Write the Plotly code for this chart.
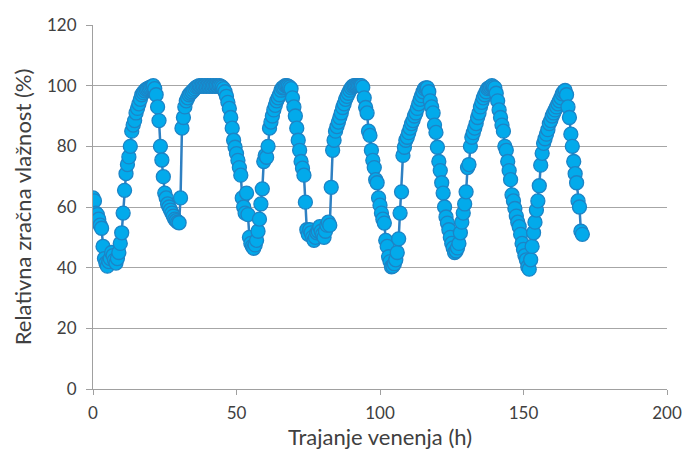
import plotly.graph_objects as go

# Time (h), half-hour steps
hours = [i * 0.5 for i in range(342)]

# Relative air humidity (%)
humidity = [
    63, 62, 58, 57.5, 56, 54, 53, 47, 43, 41.5,          # 0-4.5
    40.5, 42, 43, 45, 44, 42.5, 41.5, 43, 45, 48,         # 5-9.5
    51.5, 58, 65.5, 71, 74, 76.5, 80, 85, 87, 88.5,       # 10-14.5
    91, 92.5, 94, 95.5, 97, 97.7, 98.3, 98.8, 99, 99.3,   # 15-19.5
    99.5, 99.7, 100, 99, 97, 93, 88.5, 80, 75.5, 70,      # 20-24.5
    64.6, 63, 61, 60, 59, 58, 57, 56, 55.5, 55,           # 25-29.5
    54.8, 63, 86, 89.5, 93, 95, 96, 97, 97.5, 98,         # 30-34.5
    98.5, 99, 99.5, 99.7, 100, 99.8, 100, 99.8, 100, 99.8, # 35-39.5
    100, 99.8, 100, 99.8, 100, 99.8, 100, 99.8, 100, 99.8, # 40-44.5
    99.5, 99, 98, 96.5, 94.5, 92.5, 89.5, 86, 82, 79.7,   # 45-49.5
    77.6, 75.4, 73, 70.5, 63, 60, 58, 64.6, 57.5, 50,     # 50-54.5
    48, 47, 46.4, 47.5, 49, 52, 56, 61, 66, 75,           # 55-59.5
    77, 76.4, 80, 86, 88, 90, 92, 93.5, 95, 96,           # 60-64.5
    97, 98.5, 99.3, 99.5, 100, 100, 99.8, 99.5, 99, 96,   # 65-69.5
    93, 90, 86, 82, 78.7, 75, 72.8, 70.5, 61.6, 52.5,     # 70-74.5
    51, 52.5, 51.5, 50, 49, 50, 51.5, 52, 53.5, 52,       # 75-79.5
    51, 50, 52, 54, 55, 54, 66.5, 78.7, 82, 85,           # 80-84.5
    86.5, 88, 89.5, 91, 92.8, 94, 95.5, 96.5, 97.5, 98.5, # 85-89.5
    99.3, 99.8, 100, 100, 100, 100, 100, 100, 99.5, 96,   # 90-94.5
    92.8, 91, 85, 83.6, 78.7, 75.4, 73, 69, 68, 63,       # 95-99.5
    60.6, 58, 56, 54.7, 49, 47, 43.6, 42, 40.3, 40.5,     # 100-104.5
    41.3, 42.6, 45, 49.5, 58, 65, 77, 79.7, 82, 83,       # 105-109.5
    84.5, 86, 87.5, 88.5, 90, 91, 92.5, 94, 95.5, 96.7,   # 110-114.5
    98, 99, 99.3, 99.3, 98, 95, 93, 91, 87, 84.6,         # 115-119.5
    79.7, 75, 72, 68, 64.6, 60, 56.7, 54.7, 52.5, 50,     # 120-124.5
    48, 46.5, 45, 45.5, 46.5, 48, 51.5, 55, 58, 61,       # 125-129.5
    65, 73, 74, 80, 83, 84.5, 86, 87.5, 89.5, 91,         # 130-134.5
    93, 94.5, 96, 97, 98, 99, 99.3, 99.6, 100, 99.6,      # 135-139.5
    99.3, 97.5, 95, 92, 89.5, 87, 85, 80, 78.7, 75,       # 140-144.5
    72, 69, 64, 62, 59.5, 57, 55, 53.5, 51, 48,           # 145-149.5
    46, 44, 42.6, 40.3, 39.5, 42.6, 47, 51.5, 55, 59,     # 150-154.5
    62, 67, 73.8, 77.7, 81, 82.5, 84, 85.5, 87.5, 88.5,   # 155-159.5
    90, 91, 92, 93, 94, 95, 96, 97.3, 98, 98.4,           # 160-164.5
    97, 93, 89.5, 84, 80, 75, 71, 68, 62, 60,             # 165-169.5
    52, 51,                                               # 170-170.5
]

x_ticks = [0, 50, 100, 150, 200]
y_ticks = [0, 20, 40, 60, 80, 100, 120]

font_family = "Lato, 'Open Sans', sans-serif"
text_color = "#404040"

fig = go.Figure(
    go.Scatter(
        x=hours,
        y=humidity,
        mode="lines+markers",
        line=dict(color="#2F80C2", width=2.5),
        marker=dict(size=14, color="#02AAEB", line=dict(color="#1C84C6", width=1.3)),
        showlegend=False,
    )
)

fig.update_layout(
    width=694,
    height=455,
    margin=dict(l=93, r=17, t=25, b=65),
    paper_bgcolor="white",
    plot_bgcolor="white",
    font=dict(family=font_family, size=17, color=text_color),
)

fig.update_xaxes(
    range=[0, 200],
    tickvals=x_ticks,
    ticks="outside",
    ticklen=5,
    tickcolor="#A0A0A0",
    showline=True,
    linecolor="#A0A0A0",
    linewidth=1,
    showgrid=False,
    zeroline=False,
    tickfont=dict(size=17, color=text_color),
    ticklabelstandoff=4,
    title=dict(text="Trajanje venenja (h)", font=dict(size=22, color=text_color), standoff=4),
)

fig.update_yaxes(
    range=[0, 120],
    tickvals=y_ticks,
    ticks="outside",
    ticklen=6,
    tickcolor="#A0A0A0",
    showline=True,
    linecolor="#A0A0A0",
    linewidth=1,
    showgrid=True,
    gridcolor="#A6A6A6",
    gridwidth=1,
    zeroline=False,
    tickfont=dict(size=17, color=text_color),
    ticklabelstandoff=6,
    title=dict(text="Relativna zračna vlažnost (%)", font=dict(size=22, color=text_color), standoff=9),
)

fig.write_html("out.html")
